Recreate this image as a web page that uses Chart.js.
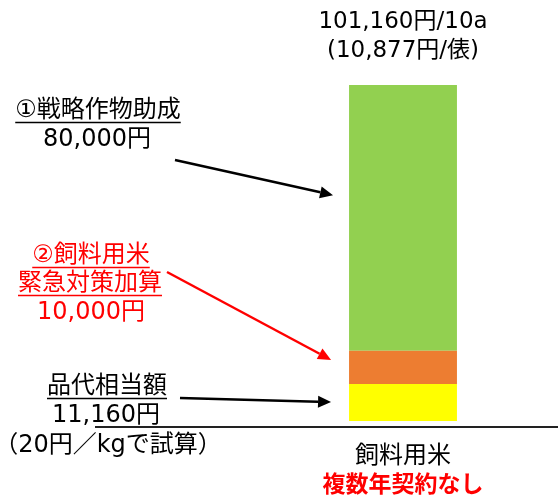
<!DOCTYPE html>
<html>
<head>
<meta charset="utf-8">
<script src="https://cdn.jsdelivr.net/npm/chart.js@4"></script>
<style>
  html, body { margin: 0; padding: 0; background: #fff; }
  #wrap { width: 558px; height: 496px; position: relative; }
</style>
</head>
<body>
<div id="wrap"><canvas id="riceChart"></canvas></div>
<script>
// 飼料用米 収入内訳（円/10a）
const categories = ['飼料用米'];
const hindaiValues = [11160];      // 品代相当額
const kinkyuValues = [10000];      // ②飼料用米緊急対策加算
const senryakuValues = [80000];    // ①戦略作物助成
const totalLabels = ['101,160円/10a', '(10,877円/俵)'];
const subLabels = ['複数年契約なし'];

const FONT = '"DejaVu Sans", "Noto Sans CJK JP", sans-serif';
const JP = '"Noto Sans CJK JP", "DejaVu Sans", sans-serif';

function drawText(ctx, text, x, y, opts) {
    ctx.save();
    ctx.font = opts.font;
    ctx.fillStyle = opts.color || '#000';
    ctx.textAlign = 'center';
    ctx.textBaseline = 'middle';
    ctx.fillText(text, x, y);
    if (opts.underline) {
        const w = ctx.measureText(text).width;
        ctx.strokeStyle = opts.color || '#000';
        ctx.lineWidth = 1.5;
        ctx.beginPath();
        ctx.moveTo(x - w / 2, y + opts.underline);
        ctx.lineTo(x + w / 2, y + opts.underline);
        ctx.stroke();
    }
    ctx.restore();
}

function drawArrow(ctx, x1, y1, x2, y2, color) {
    const ang = Math.atan2(y2 - y1, x2 - x1);
    const head = 13, half = 6;
    ctx.save();
    ctx.strokeStyle = color;
    ctx.fillStyle = color;
    ctx.lineWidth = 2.5;
    ctx.beginPath();
    ctx.moveTo(x1, y1);
    ctx.lineTo(x2 - head * Math.cos(ang), y2 - head * Math.sin(ang));
    ctx.stroke();
    ctx.beginPath();
    ctx.moveTo(x2, y2);
    ctx.lineTo(x2 - head * Math.cos(ang) + half * Math.sin(ang), y2 - head * Math.sin(ang) - half * Math.cos(ang));
    ctx.lineTo(x2 - head * Math.cos(ang) - half * Math.sin(ang), y2 - head * Math.sin(ang) + half * Math.cos(ang));
    ctx.closePath();
    ctx.fill();
    ctx.restore();
}

// Annotations, arrows and the base line
const annotationPlugin = {
    id: 'annotations',
    afterDatasetsDraw(chart) {
        const ctx = chart.ctx;
        const y = chart.scales.y;
        const bar = chart.getDatasetMeta(0).data[0];
        const cx = bar.x;
        const left = bar.x - bar.width / 2;
        const zero = y.getPixelForValue(0);

        // base line
        ctx.save();
        ctx.strokeStyle = '#222';
        ctx.lineWidth = 2;
        ctx.beginPath();
        ctx.moveTo(95, zero + 6);
        ctx.lineTo(chart.width, zero + 6);
        ctx.stroke();
        ctx.restore();

        // total above bar
        drawText(ctx, totalLabels[0], cx, 22, { font: '23px ' + FONT });
        drawText(ctx, totalLabels[1], cx, 51, { font: '23px ' + FONT });

        // category under bar
        drawText(ctx, categories[0], cx, 454, { font: '24px ' + JP });
        drawText(ctx, subLabels[0], cx, 483, { font: 'bold 23px ' + JP, color: '#ff0000' });

        // ① strategic crop subsidy
        drawText(ctx, '①戦略作物助成', 98, 111, { font: '24px ' + FONT, underline: 11.5 });
        drawText(ctx, senryakuValues[0].toLocaleString('en-US') + '円', 97, 140, { font: '24px ' + FONT });
        drawArrow(ctx, 175, 160, left - 16, y.getPixelForValue(68000), '#000');

        // ② emergency addition
        const red = '#ff0000';
        drawText(ctx, '②飼料用米', 91, 256, { font: '24px ' + FONT, color: red, underline: 11.5 });
        drawText(ctx, '緊急対策加算', 90, 284, { font: '24px ' + FONT, color: red, underline: 11.5 });
        drawText(ctx, kinkyuValues[0].toLocaleString('en-US') + '円', 91, 313, { font: '24px ' + FONT, color: red });
        drawArrow(ctx, 167, 272, left - 18, y.getPixelForValue(18400), red);

        // product value
        drawText(ctx, '品代相当額', 107, 387, { font: '24px ' + FONT, underline: 11.5 });
        drawText(ctx, hindaiValues[0].toLocaleString('en-US') + '円', 106, 416, { font: '24px ' + FONT });
        drawText(ctx, '（20円／kgで試算）', 108, 446, { font: '24px ' + FONT });
        drawArrow(ctx, 180, 398, left - 18, y.getPixelForValue(5700), '#000');
    }
};

new Chart(document.getElementById('riceChart'), {
    type: 'bar',
    data: {
        labels: categories,
        datasets: [{
            label: '品代相当額',
            data: hindaiValues,
            backgroundColor: '#ffff00'
        }, {
            label: '飼料用米緊急対策加算',
            data: kinkyuValues,
            backgroundColor: '#ed7d31'
        }, {
            label: '戦略作物助成',
            data: senryakuValues,
            backgroundColor: '#92d050'
        }]
    },
    options: {
        responsive: true,
        maintainAspectRatio: false,
        animation: false,
        layout: {
            padding: { top: 85, bottom: 75, left: 294, right: 46 }
        },
        datasets: {
            bar: {
                categoryPercentage: 1,
                barPercentage: 0.495,
                borderWidth: 0
            }
        },
        plugins: {
            legend: { display: false },
            tooltip: { enabled: false }
        },
        scales: {
            x: {
                stacked: true,
                display: false
            },
            y: {
                stacked: true,
                display: false,
                min: 0,
                max: hindaiValues[0] + kinkyuValues[0] + senryakuValues[0]
            }
        }
    },
    plugins: [annotationPlugin]
});
</script>
</body>
</html>
